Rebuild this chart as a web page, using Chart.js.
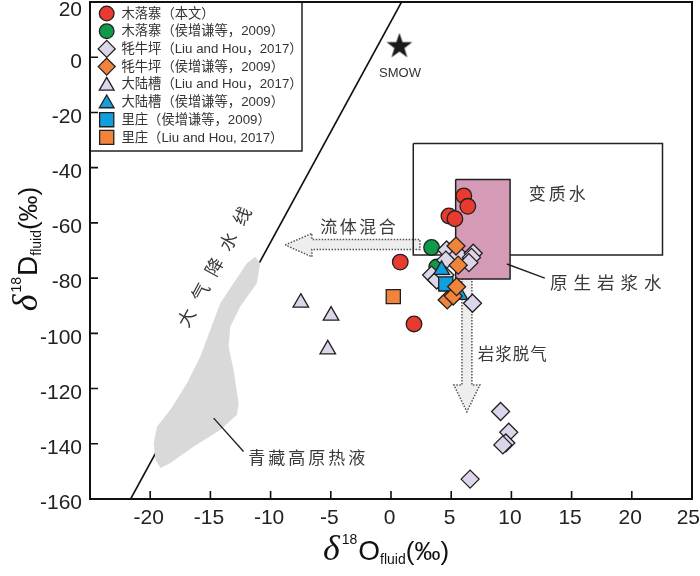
<!DOCTYPE html>
<html><head><meta charset="utf-8">
<script src="https://cdn.jsdelivr.net/npm/chart.js@4.4.1/dist/chart.umd.min.js"></script>
<style>html,body{margin:0;padding:0;background:#fff}#wrap{width:700px;height:576px;position:relative}</style>
</head><body><div id="wrap"><canvas id="c" width="700" height="576"></canvas></div>
<script>
// ---- tick labels ----
const xTicks = [-20,-15,-10,-5,0,5,10,15,20,25];
const yTicks = [-160,-140,-120,-100,-80,-60,-40,-20,0,20];

// ---- series (δ18O, δD) ----
const mlzThisX = [6.05, 6.38, 4.81, 5.31, 0.77, 1.91];
const mlzThisY = [-50.2, -54.0, -57.5, -58.5, -74.2, -96.6];
const mlzHouX = [3.37, 3.8];
const mlzHouY = [-68.9, -76.0];
const mnpLiuX = [4.62, 5.58, 4.56, 6.83, 6.69, 6.47, 3.37, 3.79, 4.48, 6.77, 9.10, 9.78, 9.54, 9.29, 6.57];
const mnpLiuY = [-69.8, -71.4, -73.5, -71.0, -72.5, -74.4, -78.9, -80.7, -78.9, -89.1, -128.3, -135.8, -139.7, -140.4, -152.8];
const mnpHouX = [5.40, 5.58, 4.67, 5.17, 5.45];
const mnpHouY = [-68.4, -75.3, -87.9, -86.5, -83.1];
const dlcLiuX = [-7.49, -4.98, -5.25];
const dlcLiuY = [-88.9, -93.6, -105.8];
const dlcHouX = [4.2, 5.72];
const dlcHouY = [-77.0, -86.1];
const lzHouX = [4.55];
const lzHouY = [-82.1];
const lzLiuX = [0.19];
const lzLiuY = [-86.7];
const smowX = [0.7];
const smowY = [4.3];

// ---- reference fields ----
const mwlX = [-21.625, 0.875];
const mwlY = [-160, 20];
const tibetX = [-11.28,-10.86,-11.14,-12.52,-13.35,-13.49,-13.08,-12.66,-12.79,-14.18,-16.39,-18.32,-19.15,-19.57,-19.71,-19.43,-18.32,-16.94,-15.84,-15.01,-14.18,-13.08,-11.97,-11.28];
const tibetY = [-72.3,-74.6,-81.9,-90.3,-97.6,-104.8,-113.2,-125.3,-129.5,-135.0,-141.0,-147.0,-148.8,-145.8,-139.7,-133.7,-127.7,-118.0,-108.4,-98.8,-89.1,-81.9,-74.6,-72.3];
const metaX = [1.85, 22.55, 22.55, 1.85, 1.85];
const metaY = [-31.25, -31.25, -71.6, -71.6, -31.25];
const magmaX = [5.37, 9.89, 9.89, 5.37, 5.37];
const magmaY = [-44.3, -44.3, -80.3, -80.3, -44.3];
const mixArrowX = [-8.79, -6.57, -6.57, 2.40, 2.40, -6.57, -6.57, -8.79];
const mixArrowY = [-68.0, -63.8, -66.0, -66.0, -69.6, -69.6, -72.3, -68.0];
const degasArrowX = [5.89, 6.72, 6.72, 7.38, 6.30, 5.22, 5.89, 5.89];
const degasArrowY = [-80.3, -80.3, -118.7, -118.7, -128.4, -118.7, -118.7, -80.3];
const magmaLeadX = [9.62, 12.77];
const magmaLeadY = [-74.9, -80.0];
const tibetLeadX = [-14.73, -12.25];
const tibetLeadY = [-130.7, -142.8];

const legendLabels = ['木落寨（本文）','木落寨（侯增谦等，2009）','牦牛坪（Liu and Hou，2017）','牦牛坪（侯增谦等，2009）','大陆槽（Liu and Hou，2017）','大陆槽（侯增谦等，2009）','里庄（侯增谦等，2009）','里庄（Liu and Hou, 2017）'];

const pts = (xs, ys) => xs.map((v, i) => ({x: v, y: ys[i]}));

// star image for SMOW
const star = document.createElement('canvas');
star.width = 30; star.height = 30;
(function(){
  const g = star.getContext('2d');
  g.fillStyle = '#1a1a1a';
  g.beginPath();
  for (let i = 0; i < 10; i++) {
    const r = i % 2 === 0 ? 13.5 : 5.3;
    const a = -Math.PI / 2 + i * Math.PI / 5;
    const px = 15 + r * Math.cos(a), py = 16 + r * Math.sin(a);
    i === 0 ? g.moveTo(px, py) : g.lineTo(px, py);
  }
  g.closePath(); g.fill();
})();

const EDGE = '#231f20';
const scat = (label, xs, ys, style, color, r, order) => ({
  type: 'scatter', label, order, data: pts(xs, ys), pointStyle: style, pointRadius: r, pointHoverRadius: r,
  pointBackgroundColor: color, pointBorderColor: EDGE, pointBorderWidth: 1.3
});
const shape = (label, xs, ys, order, o) => Object.assign({
  type: 'line', label, order, data: pts(xs, ys), pointRadius: 0, pointHoverRadius: 0, tension: 0, fill: false
}, o);

// lower order = drawn on top
const datasets = [
  scat(legendLabels[0], mlzThisX, mlzThisY, 'circle', '#e63b2e', 7.8, 0),
  scat(legendLabels[1], mlzHouX, mlzHouY, 'circle', '#0f9a4a', 7.8, 5),
  scat(legendLabels[2], mnpLiuX, mnpLiuY, 'rectRot', '#ddd5ea', 9, 4),
  scat(legendLabels[3], mnpHouX, mnpHouY, 'rectRot', '#f0843a', 9, 1),
  scat(legendLabels[4], dlcLiuX, dlcLiuY, 'triangle', '#ddd5ea', 9, 6),
  scat(legendLabels[5], dlcHouX, dlcHouY, 'triangle', '#10a0dc', 9, 2),
  scat(legendLabels[6], lzHouX, lzHouY, 'rect', '#10a0dc', 10, 3),
  scat(legendLabels[7], lzLiuX, lzLiuY, 'rect', '#f0843a', 10, 7),
  {type: 'scatter', label: 'SMOW', order: 8, data: pts(smowX, smowY), pointStyle: star, pointRadius: 13},
  shape('lead1', magmaLeadX, magmaLeadY, 9, {borderColor: '#222', borderWidth: 1.4}),
  shape('lead2', tibetLeadX, tibetLeadY, 10, {borderColor: '#222', borderWidth: 1.4}),
  shape('magma', magmaX, magmaY, 11, {borderColor: '#222', borderWidth: 1.5, backgroundColor: '#d59ab5', fill: 'shape'}),
  shape('meta', metaX, metaY, 12, {borderColor: '#222', borderWidth: 1.5}),
  shape('mix', mixArrowX, mixArrowY, 13, {borderColor: '#555', borderWidth: 1.5, borderDash: [1.5, 1.5], backgroundColor: '#eeeeee', fill: 'shape'}),
  shape('degas', degasArrowX, degasArrowY, 14, {borderColor: '#555', borderWidth: 1.5, borderDash: [1.5, 1.5], backgroundColor: '#eeeeee', fill: 'shape'}),
  shape('tibet', tibetX, tibetY, 15, {borderWidth: 0, borderColor: 'rgba(0,0,0,0)', backgroundColor: '#d9d9d9', fill: 'shape'}),
  shape('mwl', mwlX, mwlY, 16, {borderColor: '#111', borderWidth: 1.6})
];

const CJK = '"Noto Sans CJK SC", sans-serif';
const SANS = '"Liberation Sans", Arial, sans-serif';
const annotations = [
  {t: '变质水', x: 13.8, y: -49.2, size: 17, sp: 3, align: 'center'},
  {t: '原生岩浆水', x: 13.2, y: -81.7, size: 17.5, sp: 6, align: 'left'},
  {t: '岩浆脱气', x: 7.2, y: -107.4, size: 16.5, sp: 1, align: 'left'},
  {t: '流体混合', x: -2.74, y: -61.2, size: 17, sp: 2.5, align: 'center'},
  {t: '青藏高原热液', x: -11.86, y: -145.1, size: 17, sp: 3, align: 'left'}
];

function spaced(ctx, t, x, y, sp, align) {
  const chars = [...t];
  const ws = chars.map(c => ctx.measureText(c).width);
  const total = ws.reduce((a, b) => a + b, 0) + sp * (chars.length - 1);
  let cx = align === 'center' ? x - total / 2 : x;
  ctx.textAlign = 'left';
  chars.forEach((c, i) => { ctx.fillText(c, cx, y); cx += ws[i] + sp; });
}
function rich(ctx, runs, x, y) {
  let total = 0;
  runs.forEach(r => { ctx.font = r.f; r.w = ctx.measureText(r.t).width + (r.gap || 0); total += r.w; });
  let cx = x - total / 2;
  ctx.textAlign = 'left'; ctx.textBaseline = 'alphabetic';
  runs.forEach(r => { ctx.font = r.f; ctx.fillText(r.t, cx, y + (r.dy || 0)); cx += r.w; });
}
const titleRuns = letter => [
  {t: 'δ', f: 'italic 36px "Liberation Serif", serif', gap: 2},
  {t: '18', f: '14px ' + SANS, dy: -16, gap: 1},
  {t: letter, f: '28px ' + SANS},
  {t: 'fluid', f: '14px ' + SANS, dy: 4},
  {t: '(‰)', f: '26px ' + SANS}
];

const deco = {
  id: 'deco',
  afterDatasetsDraw(chart) {
    const {ctx, chartArea: a, scales: {x, y}} = chart;
    ctx.save();
    ctx.fillStyle = '#3a3a3a';
    ctx.textBaseline = 'middle';
    annotations.forEach(n => {
      ctx.font = n.size + 'px ' + CJK;
      spaced(ctx, n.t, x.getPixelForValue(n.x), y.getPixelForValue(n.y), n.sp, n.align);
    });
    // meteoric water line label along the line
    ctx.font = '18px ' + CJK;
    const ang = Math.atan2(y.getPixelForValue(20) - y.getPixelForValue(-160), x.getPixelForValue(mwlX[1]) - x.getPixelForValue(mwlX[0]));
    const mw = [...'大气降水线'];
    const sx = x.getPixelForValue(-17.0), sy = y.getPixelForValue(-94.3);
    mw.forEach((c, i) => {
      ctx.save();
      ctx.translate(sx + Math.cos(ang) * 29 * i, sy + Math.sin(ang) * 29 * i);
      ctx.rotate(ang);
      ctx.textAlign = 'center';
      ctx.fillText(c, 0, 0);
      ctx.restore();
    });
    // SMOW label
    ctx.fillStyle = '#333';
    ctx.font = '13px ' + SANS;
    ctx.textAlign = 'center';
    ctx.fillText('SMOW', x.getPixelForValue(0.75), y.getPixelForValue(-5.8));

    // legend
    const lx = a.left, ly = a.top, lw = 212, lh = 149;
    ctx.fillStyle = '#fff';
    ctx.fillRect(lx, ly, lw, lh);
    ctx.strokeStyle = '#222'; ctx.lineWidth = 1.5;
    ctx.strokeRect(lx, ly, lw, lh);
    const rowY = i => ly + 11.5 + i * 17.7;
    for (let i = 0; i < 8; i++) {
      const d = datasets[i];
      ctx.fillStyle = d.pointBackgroundColor;
      ctx.strokeStyle = EDGE; ctx.lineWidth = 1.3;
      const r = d.pointStyle === 'circle' ? 7.3 : d.pointStyle === 'rect' ? 10 : 8.5;
      Chart.helpers.drawPoint(ctx, {pointStyle: d.pointStyle, radius: r, rotation: 0, borderWidth: 1.3}, lx + 16.7, rowY(i) + (d.pointStyle === 'triangle' ? 1.5 : 0));
      ctx.fillStyle = '#333';
      ctx.font = '13.3px "Liberation Sans", ' + CJK;
      ctx.textAlign = 'left'; ctx.textBaseline = 'middle';
      ctx.fillText(legendLabels[i], lx + 31.5, rowY(i) + 0.5);
    }

    // frame
    ctx.strokeStyle = '#111'; ctx.lineWidth = 2;
    ctx.strokeRect(a.left, a.top, a.right - a.left, a.bottom - a.top);
    // inward ticks
    ctx.lineWidth = 1.6;
    ctx.beginPath();
    xTicks.forEach(v => { const px = x.getPixelForValue(v); ctx.moveTo(px, a.bottom); ctx.lineTo(px, a.bottom - 8); });
    yTicks.forEach(v => { const py = y.getPixelForValue(v); ctx.moveTo(a.left, py); ctx.lineTo(a.left + 8, py); });
    ctx.stroke();

    // tick labels
    ctx.fillStyle = '#222';
    ctx.font = '21px ' + SANS;
    ctx.textBaseline = 'middle';
    ctx.textAlign = 'right';
    yTicks.forEach(v => {
      const py = Math.max(y.getPixelForValue(v) + 4.5, 10);
      ctx.fillText(String(v), 82, py);
    });
    xTicks.forEach(v => {
      const s = String(v);
      const w = ctx.measureText(s).width;
      let cx = x.getPixelForValue(v) - 1.5;
      if (cx + w / 2 > 700) cx = 700 - w / 2;
      ctx.textAlign = 'center';
      ctx.fillText(s, cx, 518);
    });

    // axis titles
    ctx.fillStyle = '#111';
    rich(ctx, titleRuns('O'), 386, 560);
    ctx.save();
    ctx.translate(37, 249);
    ctx.rotate(-Math.PI / 2);
    rich(ctx, titleRuns('D'), 0, 0);
    ctx.restore();
    ctx.restore();
  }
};

new Chart(document.getElementById('c'), {
  type: 'scatter',
  data: {datasets},
  plugins: [deco],
  options: {
    responsive: false, animation: false, events: [],
    layout: {autoPadding: false, padding: {top: 2, right: 8, left: 0, bottom: 0}},
    plugins: {legend: {display: false}, tooltip: {enabled: false}},
    scales: {
      x: {
        type: 'linear', min: -25, max: 25,
        grid: {display: false, drawTicks: false},
        border: {display: false},
        afterBuildTicks: s => { s.ticks = xTicks.map(v => ({value: v})); },
        afterFit: s => { s.height = 77; },
        ticks: {display: false}
      },
      y: {
        type: 'linear', min: -160, max: 20,
        grid: {display: false, drawTicks: false},
        border: {display: false},
        afterBuildTicks: s => { s.ticks = yTicks.map(v => ({value: v})); },
        afterFit: s => { s.width = 90; },
        ticks: {display: false}
      }
    }
  }
});
</script>
</body></html>
